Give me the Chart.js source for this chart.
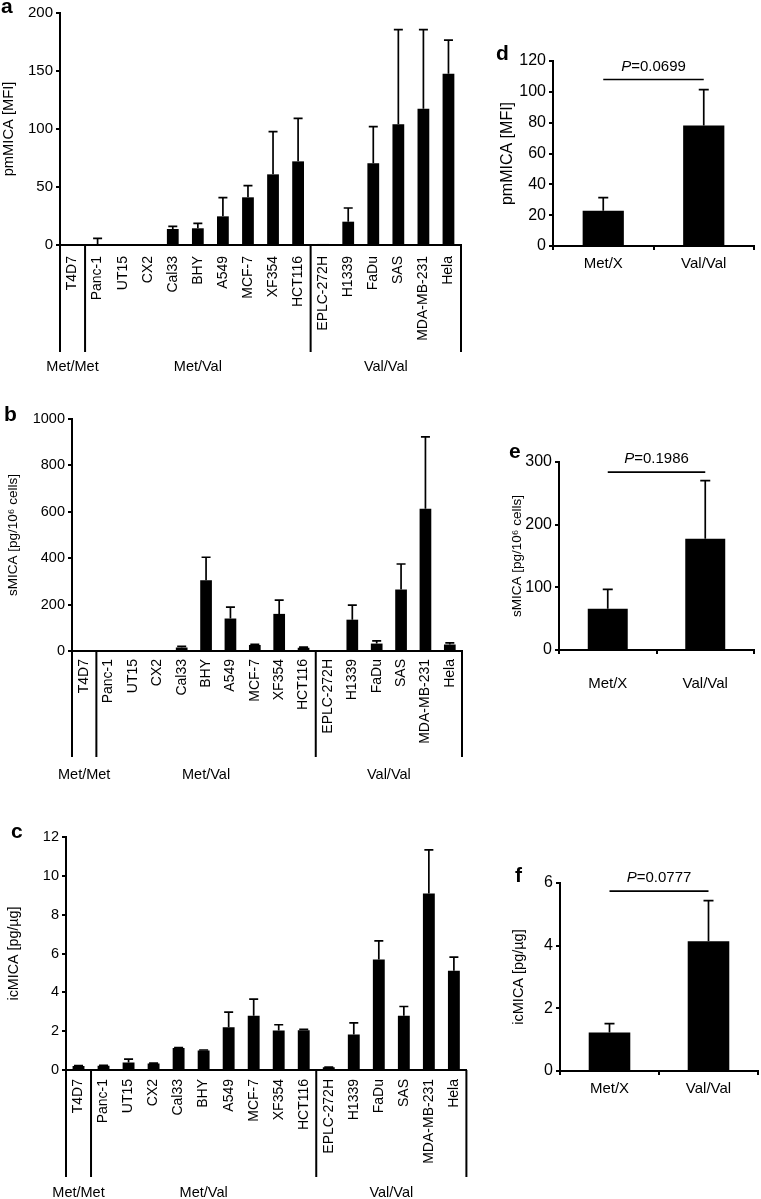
<!DOCTYPE html>
<html>
<head>
<meta charset="utf-8">
<script src="https://cdn.jsdelivr.net/npm/chart.js@4.4.1/dist/chart.umd.min.js"></script>
<style>
  body { margin: 0; background: #fff; width: 761px; height: 1199px; position: relative; overflow: hidden; }
  canvas { position: absolute; }
</style>
</head>
<body>
<canvas id="chartA" width="480" height="385" style="left:0;top:0"></canvas>
<canvas id="chartB" width="480" height="390" style="left:0;top:400px"></canvas>
<canvas id="chartC" width="480" height="379" style="left:0;top:820px"></canvas>
<canvas id="chartD" width="281" height="290" style="left:480px;top:0"></canvas>
<canvas id="chartE" width="281" height="270" style="left:480px;top:430px"></canvas>
<canvas id="chartF" width="281" height="260" style="left:480px;top:850px"></canvas>
<script>
// cell lines and their MICA-129 genotype
const cellLines = ['T4D7', 'Panc-1', 'UT15', 'CX2', 'Cal33', 'BHY', 'A549', 'MCF-7', 'XF354', 'HCT116',
                   'EPLC-272H', 'H1339', 'FaDu', 'SAS', 'MDA-MB-231', 'Hela'];
const genotypes = ['Met/Met', 'Met/Val', 'Met/Val', 'Met/Val', 'Met/Val', 'Met/Val', 'Met/Val', 'Met/Val', 'Met/Val', 'Met/Val',
                   'Val/Val', 'Val/Val', 'Val/Val', 'Val/Val', 'Val/Val', 'Val/Val'];

// a: membrane MICA [MFI], mean and SD
const pmMICA   = [0.3, 0.3, 0.5, 0.2, 13.8, 14.4, 24.7, 41.1, 60.9, 72.1, 0.9, 20.1, 70.4, 104, 117.5, 147.7];
const pmMICASd = [0, 5.4, 0, 0, 2.3, 4.3, 16.1, 10.0, 36.8, 37.1, 0, 11.8, 31.6, 81.6, 68.1, 29.0];
// b: soluble MICA [pg/10^6 cells]
const sMICA    = [0, 0, 0, 0, 15, 305, 140, 26, 160, 14, 0, 135, 32, 265, 613, 28];
const sMICASd  = [0, 0, 0, 0, 5, 99, 49, 3, 59, 3, 0, 63, 12, 110, 310, 7];
// c: intracellular MICA [pg/ug]
const icMICA   = [0.21, 0.22, 0.38, 0.33, 1.13, 1.0, 2.2, 2.8, 2.03, 2.05, 0.14, 1.83, 5.69, 2.8, 9.09, 5.11];
const icMICASd = [0.02, 0.02, 0.18, 0.02, 0.03, 0.03, 0.78, 0.85, 0.3, 0.04, 0.01, 0.6, 0.96, 0.47, 2.25, 0.7];

// d-f: pooled by genotype
const groups = ['Met/X', 'Val/Val'];
const pmMICAGroup = [22.9, 78.1];
const pmMICAGroupSd = [8.5, 23.3];
const sMICAGroup = [65.8, 177.4];
const sMICAGroupSd = [30.8, 92.9];
const icMICAGroup = [1.23, 4.14];
const icMICAGroupSd = [0.28, 1.30];
const pValues = ['0.0699', '0.1986', '0.0777'];

// y tick labels
const pmTicks = [0, 50, 100, 150, 200];
const sTicks = [0, 200, 400, 600, 800, 1000];
const icTicks = [0, 2, 4, 6, 8, 10, 12];
const pmGroupTicks = [0, 20, 40, 60, 80, 100, 120];
const sGroupTicks = [0, 100, 200, 300];
const icGroupTicks = [0, 2, 4, 6];

const FONT = "'Liberation Sans', Arial, 'DejaVu Sans', sans-serif";
const LINE = 2;

const errorBars = {
  id: 'errorBars',
  afterDatasetsDraw(chart, args, opts) {
    const ctx = chart.ctx;
    const y = chart.scales.y;
    const ds = chart.data.datasets[0];
    ctx.save();
    ctx.strokeStyle = '#000';
    ctx.lineWidth = 1.7;
    chart.getDatasetMeta(0).data.forEach((bar, i) => {
      const sd = ds.sd[i];
      if (!sd) return;
      const top = y.getPixelForValue(ds.data[i] + sd);
      ctx.beginPath();
      ctx.moveTo(bar.x, bar.y);
      ctx.lineTo(bar.x, top);
      ctx.moveTo(bar.x - opts.cap / 2, top);
      ctx.lineTo(bar.x + opts.cap / 2, top);
      ctx.stroke();
    });
    ctx.restore();
  }
};

const genotypeGroups = {
  id: 'genotypeGroups',
  afterDraw(chart, args, opts) {
    if (!opts.groups) return;
    const ctx = chart.ctx;
    const {x, y} = chart.scales;
    const n = chart.data.labels.length;
    const w = (x.right - x.left) / n;
    const y0 = y.getPixelForValue(0);
    const bounds = [0];
    for (let i = 1; i < n; i++) if (opts.groups[i] !== opts.groups[i - 1]) bounds.push(i);
    bounds.push(n);
    ctx.save();
    ctx.strokeStyle = '#000';
    ctx.lineWidth = LINE;
    ctx.beginPath();
    bounds.forEach(b => {
      ctx.moveTo(x.left + b * w, y0);
      ctx.lineTo(x.left + b * w, x.bottom);
    });
    ctx.stroke();
    ctx.fillStyle = '#000';
    ctx.font = opts.fontSize + 'px ' + FONT;
    ctx.textAlign = 'center';
    ctx.textBaseline = 'middle';
    for (let k = 0; k < bounds.length - 1; k++) {
      const cx = x.left + (bounds[k] + bounds[k + 1]) / 2 * w;
      ctx.fillText(opts.groups[bounds[k]], cx, x.bottom + opts.labelGap);
    }
    ctx.restore();
  }
};

const pBracket = {
  id: 'pBracket',
  afterDraw(chart, args, opts) {
    if (!opts.p) return;
    const ctx = chart.ctx;
    const {x, y} = chart.scales;
    const x1 = x.getPixelForValue(0), x2 = x.getPixelForValue(1);
    const ly = y.getPixelForValue(opts.level);
    ctx.save();
    ctx.strokeStyle = '#000';
    ctx.lineWidth = 1.7;
    ctx.beginPath();
    ctx.moveTo(x1, ly);
    ctx.lineTo(x2, ly);
    ctx.stroke();
    ctx.fillStyle = '#000';
    ctx.textBaseline = 'alphabetic';
    ctx.textAlign = 'left';
    const italic = 'italic ' + opts.fontSize + 'px ' + FONT;
    const normal = opts.fontSize + 'px ' + FONT;
    const rest = '=' + opts.p;
    ctx.font = italic;
    const wP = ctx.measureText('P').width;
    ctx.font = normal;
    const wR = ctx.measureText(rest).width;
    const sx = (x1 + x2) / 2 - (wP + wR) / 2;
    const by = ly - opts.gap;
    ctx.font = italic;
    ctx.fillText('P', sx, by);
    ctx.font = normal;
    ctx.fillText(rest, sx + wP, by);
    ctx.restore();
  }
};

const panelLetter = {
  id: 'panelLetter',
  afterDraw(chart, args, opts) {
    const ctx = chart.ctx;
    ctx.save();
    ctx.fillStyle = '#000';
    ctx.font = 'bold 21px ' + FONT;
    ctx.textAlign = 'left';
    ctx.textBaseline = 'alphabetic';
    ctx.fillText(opts.letter, opts.x, opts.y);
    ctx.restore();
  }
};

function makeChart(id, labels, values, sd, ticks, s) {
  const wide = labels.length > 2;
  const xAxis = wide ? {
    afterFit: sc => { sc.height = s.xHeight; },
    border: {display: true, color: '#000', width: LINE},
    grid: {display: false, drawTicks: false},
    ticks: {color: '#000', font: {family: FONT, size: 14}, autoSkip: false,
            minRotation: 90, maxRotation: 90, padding: s.labelPad}
  } : {
    afterFit: sc => { sc.height = s.xHeight; },
    border: {display: true, color: '#000', width: LINE},
    grid: {display: true, offset: true, drawOnChartArea: false, drawTicks: true,
           tickLength: 4, color: '#000', lineWidth: LINE},
    ticks: {color: '#000', font: {family: FONT, size: 15}, maxRotation: 0, padding: s.labelPad}
  };
  return new Chart(document.getElementById(id), {
    type: 'bar',
    data: {
      labels: labels,
      datasets: [{
        data: values,
        sd: sd,
        backgroundColor: '#000',
        borderWidth: 0,
        barPercentage: s.barPct,
        categoryPercentage: 1
      }]
    },
    options: {
      responsive: false,
      animation: false,
      layout: {padding: s.padding},
      plugins: {
        legend: {display: false},
        tooltip: {enabled: false},
        errorBars: {cap: s.cap},
        genotypeGroups: {groups: s.groups, labelGap: s.groupGap, fontSize: 14.5},
        pBracket: {p: s.p, level: s.pLevel, gap: 9, fontSize: 15},
        panelLetter: s.letter
      },
      scales: {
        x: xAxis,
        y: {
          min: ticks[0],
          max: ticks[ticks.length - 1],
          afterBuildTicks: sc => { sc.ticks = ticks.map(v => ({value: v})); },
          afterFit: sc => { sc.width = s.yWidth; },
          border: {display: true, color: '#000', width: LINE},
          grid: {display: true, drawOnChartArea: false, drawTicks: true, tickLength: 4,
                 color: '#000', lineWidth: LINE},
          ticks: {color: '#000', font: {family: FONT, size: s.tickSize}, padding: 3,
                  callback: v => String(v)},
          title: {display: true, text: s.title, color: '#000',
                  font: {family: FONT, size: s.titleSize},
                  padding: {top: s.titlePad, bottom: 0}}
        }
      }
    },
    plugins: [errorBars, genotypeGroups, pBracket, panelLetter]
  });
}

makeChart('chartA', cellLines, pmMICA, pmMICASd, pmTicks, {
  padding: {left: 0, top: 13, right: 19, bottom: 33}, yWidth: 60, xHeight: 107,
  labelPad: 11, barPct: 0.47, cap: 9, groups: genotypes, groupGap: 15,
  title: 'pmMICA [MFI]', titleSize: 14.7, titlePad: 0, tickSize: 15,
  letter: {letter: 'a', x: 1, y: 13}
});
makeChart('chartB', cellLines, sMICA, sMICASd, sTicks, {
  padding: {left: 0, top: 19, right: 18, bottom: 33}, yWidth: 72, xHeight: 106,
  labelPad: 8, barPct: 0.48, cap: 9, groups: genotypes, groupGap: 18,
  title: 'sMICA [pg/10\u2076 cells]', titleSize: 13.5, titlePad: 5, tickSize: 14.5,
  letter: {letter: 'b', x: 4, y: 21}
});
makeChart('chartC', cellLines, icMICA, icMICASd, icTicks, {
  padding: {left: 0, top: 17, right: 10, bottom: 22}, yWidth: 66, xHeight: 107,
  labelPad: 9, barPct: 0.475, cap: 9, groups: genotypes, groupGap: 16,
  title: 'icMICA [pg/\u00b5g]', titleSize: 14.3, titlePad: 5, tickSize: 14.5,
  letter: {letter: 'c', x: 11, y: 18}
});
makeChart('chartD', groups, pmMICAGroup, pmMICAGroupSd, pmGroupTicks, {
  padding: {left: 0, top: 61, right: 7, bottom: 14}, yWidth: 73, xHeight: 30,
  labelPad: 5, barPct: 0.41, cap: 10, p: pValues[0], pLevel: 108,
  title: 'pmMICA [MFI]', titleSize: 16, titlePad: 18, tickSize: 16,
  letter: {letter: 'd', x: 16, y: 60}
});
makeChart('chartE', groups, sMICAGroup, sMICAGroupSd, sGroupTicks, {
  padding: {left: 0, top: 32, right: 7, bottom: 5}, yWidth: 79, xHeight: 45,
  labelPad: 21, barPct: 0.41, cap: 10, p: pValues[1], pLevel: 284,
  title: 'sMICA [pg/10\u2076 cells]', titleSize: 13.5, titlePad: 29, tickSize: 16,
  letter: {letter: 'e', x: 29, y: 28}
});
makeChart('chartF', groups, icMICAGroup, icMICAGroupSd, icGroupTicks, {
  padding: {left: 0, top: 33, right: 3, bottom: 9}, yWidth: 80, xHeight: 30,
  labelPad: 5, barPct: 0.42, cap: 10, p: pValues[2], pLevel: 5.74,
  title: 'icMICA [pg/\u00b5g]', titleSize: 14.5, titlePad: 30, tickSize: 16,
  letter: {letter: 'f', x: 35, y: 32}
});
</script>
</body>
</html>
